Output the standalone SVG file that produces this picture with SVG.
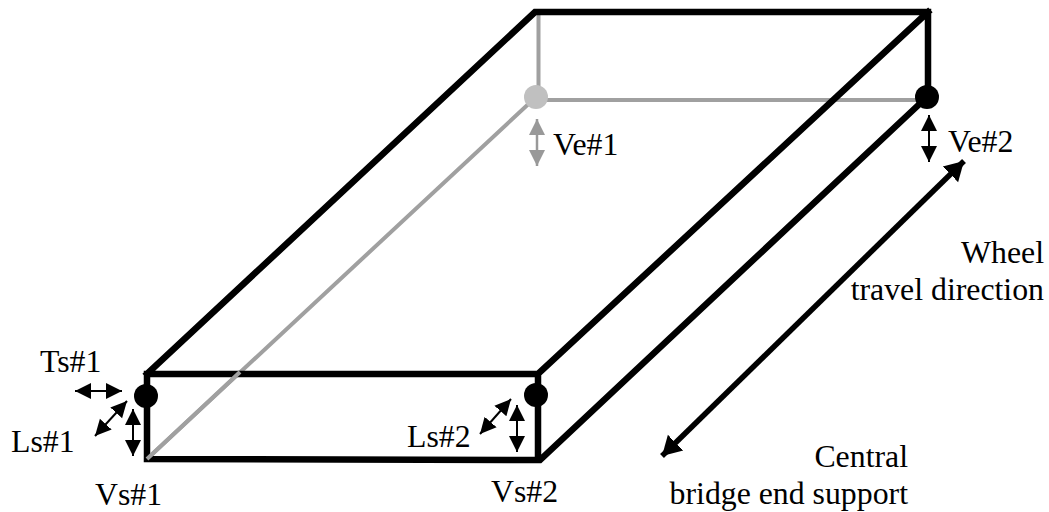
<svg xmlns="http://www.w3.org/2000/svg" width="1049" height="512" viewBox="0 0 1049 512">
<style>
text{font-family:"Liberation Serif","Times New Roman",serif;font-size:31.8px;fill:#000}
.k{fill:none;stroke:#000;stroke-width:6.500;stroke-linejoin:miter;stroke-linecap:square}
.g{fill:none;stroke:#a0a0a0;stroke-width:4}
.a{stroke:#000;stroke-width:2;marker-start:url(#hk);marker-end:url(#hk)}
.ag{stroke:#999;stroke-width:2.500;marker-start:url(#hg);marker-end:url(#hg)}
</style>
<defs>
<marker id="hk" markerUnits="userSpaceOnUse" markerWidth="17" markerHeight="18" refX="16" refY="9" orient="auto-start-reverse"><path d="M0 1L16 9L0 17Z" fill="#000"/></marker>
<marker id="hg" markerUnits="userSpaceOnUse" markerWidth="17" markerHeight="18" refX="16" refY="9" orient="auto-start-reverse"><path d="M0 1L16 9L0 17Z" fill="#999"/></marker>
<marker id="hb" markerUnits="userSpaceOnUse" markerWidth="20" markerHeight="24" refX="19" refY="12" orient="auto-start-reverse"><path d="M0 1L19 12L0 23Z" fill="#000"/></marker>
</defs>
<g id="connectors">
<path class="g" d="M538.500 14V97M536 100H927M147 459L536 97"/>
<path class="k" d="M147 374H538M147 374L535 12H928M538 374L928 12M147 374V458M147 459L540 460L927 97M538 374V459M928 12V97"/>
<path class="g" d="M147 459L240 372"/>
<line class="a" x1="75" y1="391" x2="122" y2="391"/>
<line class="a" x1="95" y1="436" x2="127" y2="401"/>
<line class="a" x1="133" y1="409" x2="133" y2="456"/>
<line class="a" x1="480" y1="434" x2="511" y2="399"/>
<line class="a" x1="517" y1="405" x2="517" y2="452"/>
<line class="ag" x1="537" y1="119" x2="537" y2="166"/>
<line class="a" x1="929" y1="115" x2="929" y2="162"/>
<line x1="662" y1="456" x2="964" y2="161" stroke="#000" stroke-width="5.500" marker-start="url(#hb)" marker-end="url(#hb)"/>
</g>
<g id="Ts1"><circle cx="146" cy="396" r="12"/><text x="40" y="372">Ts#1</text></g>
<g id="Ls1"><text x="11" y="452">Ls#1</text></g>
<g id="Vs1"><text x="95" y="505">Vs#1</text></g>
<g id="Ls2"><circle cx="536" cy="395" r="12"/><text x="407" y="447">Ls#2</text></g>
<g id="Vs2"><text x="491" y="502">Vs#2</text></g>
<g id="Ve1"><circle cx="536" cy="97" r="12" fill="#c0c0c0"/><text x="553" y="155">Ve#1</text></g>
<g id="Ve2"><circle cx="927" cy="97" r="12"/><text x="948" y="152">Ve#2</text></g>
<g id="wheel"><text x="1044" y="263" text-anchor="end">Wheel</text><text x="1044" y="300" text-anchor="end">travel direction</text></g>
<g id="central"><text x="908" y="467" text-anchor="end">Central</text><text x="908" y="504" text-anchor="end">bridge end support</text></g>
</svg>
